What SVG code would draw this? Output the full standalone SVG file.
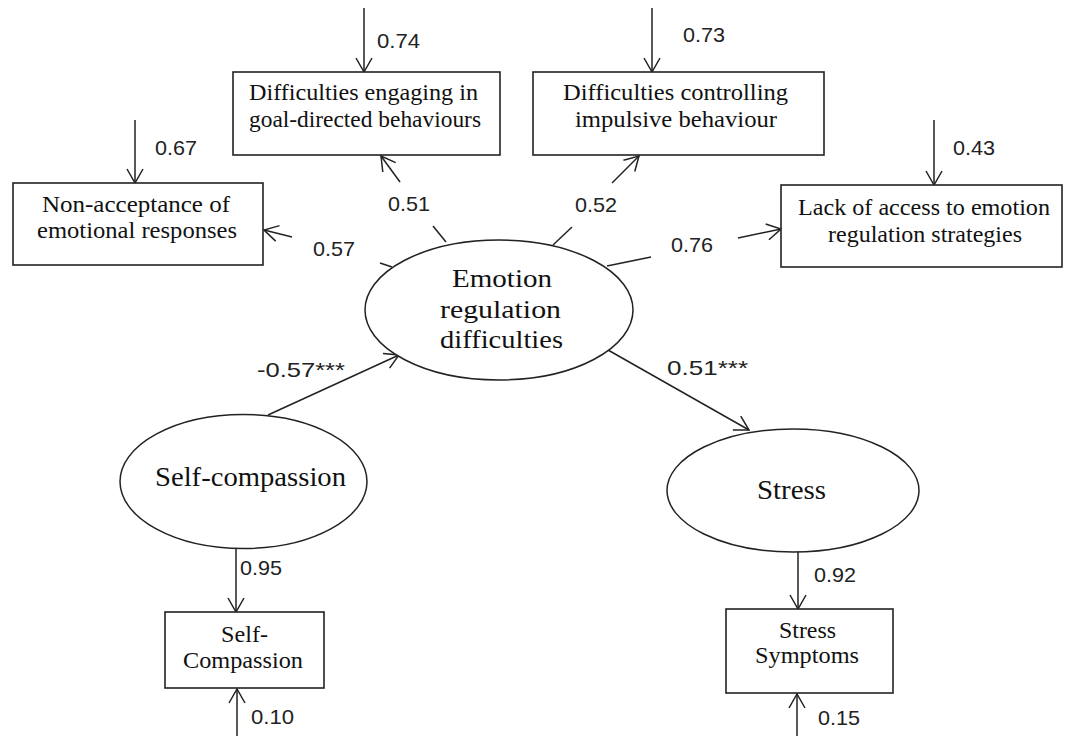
<svg xmlns="http://www.w3.org/2000/svg" width="1065" height="736" viewBox="0 0 1065 736">
<style>
.box{fill:#fff;stroke:#222;stroke-width:1.6}
.ell{fill:#fff;stroke:#222;stroke-width:1.5}
.ln{fill:none;stroke:#222;stroke-width:1.5}
.t{font-family:"Liberation Serif","Times New Roman",serif;font-size:23px;fill:#111;text-anchor:start}
.te{font-family:"Liberation Serif","Times New Roman",serif;font-size:26px;fill:#111}
.tl{font-family:"Liberation Serif","Times New Roman",serif;font-size:28px;fill:#111}
.n{font-family:"Liberation Sans",Arial,sans-serif;font-size:21px;fill:#222}
</style>
<defs>
<marker id="ah" viewBox="0 0 16 18" refX="15" refY="9" markerWidth="16" markerHeight="18" markerUnits="userSpaceOnUse" orient="auto">
<path d="M1,1 L15,9 L1,17" fill="none" stroke="#222" stroke-width="1.5"/>
</marker>
</defs>
<rect width="1065" height="736" fill="#fff"/>

<g id="connectors">
<line class="ln" x1="364" y1="8" x2="364" y2="72" marker-end="url(#ah)"/>
<line class="ln" x1="652" y1="8" x2="652" y2="72" marker-end="url(#ah)"/>
<line class="ln" x1="135" y1="120" x2="135" y2="183" marker-end="url(#ah)"/>
<line class="ln" x1="934" y1="120" x2="934" y2="185" marker-end="url(#ah)"/>
<line class="ln" x1="237" y1="736" x2="237" y2="689" marker-end="url(#ah)"/>
<line class="ln" x1="797" y1="736" x2="797" y2="694" marker-end="url(#ah)"/>
<line class="ln" x1="236" y1="549" x2="236" y2="612" marker-end="url(#ah)"/>
<line class="ln" x1="798" y1="552" x2="798" y2="609" marker-end="url(#ah)"/>
<line class="ln" x1="268" y1="415" x2="399" y2="355" marker-end="url(#ah)"/>
<line class="ln" x1="608" y1="350" x2="749" y2="430" marker-end="url(#ah)"/>
<line class="ln" x1="380" y1="263" x2="392" y2="267"/>
<line class="ln" x1="292" y1="237" x2="264" y2="230" marker-end="url(#ah)"/>
<line class="ln" x1="433" y1="226" x2="446" y2="242"/>
<line class="ln" x1="400" y1="182" x2="381" y2="156" marker-end="url(#ah)"/>
<line class="ln" x1="572" y1="227" x2="553" y2="245"/>
<line class="ln" x1="612" y1="183" x2="639" y2="156" marker-end="url(#ah)"/>
<line class="ln" x1="607" y1="266" x2="651" y2="257"/>
<line class="ln" x1="738" y1="238" x2="781" y2="229" marker-end="url(#ah)"/>
<text class="n" x="377" y="48" textLength="43" lengthAdjust="spacingAndGlyphs">0.74</text>
<text class="n" x="683" y="42" textLength="42" lengthAdjust="spacingAndGlyphs">0.73</text>
<text class="n" x="155" y="155" textLength="42" lengthAdjust="spacingAndGlyphs">0.67</text>
<text class="n" x="953" y="155" textLength="42" lengthAdjust="spacingAndGlyphs">0.43</text>
<text class="n" x="388" y="211" textLength="42" lengthAdjust="spacingAndGlyphs">0.51</text>
<text class="n" x="575" y="212" textLength="42" lengthAdjust="spacingAndGlyphs">0.52</text>
<text class="n" x="313" y="256" textLength="42" lengthAdjust="spacingAndGlyphs">0.57</text>
<text class="n" x="671" y="252" textLength="42" lengthAdjust="spacingAndGlyphs">0.76</text>
<text class="n" x="257" y="377" textLength="88" lengthAdjust="spacingAndGlyphs">-0.57***</text>
<text class="n" x="667" y="375" textLength="81" lengthAdjust="spacingAndGlyphs">0.51***</text>
<text class="n" x="240" y="575" textLength="42" lengthAdjust="spacingAndGlyphs">0.95</text>
<text class="n" x="814" y="582" textLength="42" lengthAdjust="spacingAndGlyphs">0.92</text>
<text class="n" x="251" y="724" textLength="43" lengthAdjust="spacingAndGlyphs">0.10</text>
<text class="n" x="818" y="725" textLength="42" lengthAdjust="spacingAndGlyphs">0.15</text>
</g>

<g id="non-acceptance">
<rect class="box" x="13" y="183" width="250" height="82"/>
<text class="t" x="42" y="212" font-size="22" textLength="188" lengthAdjust="spacingAndGlyphs">Non-acceptance of</text>
<text class="t" x="37" y="238" font-size="22" textLength="200" lengthAdjust="spacingAndGlyphs">emotional responses</text>
</g>

<g id="engaging">
<rect class="box" x="233" y="72" width="267" height="83"/>
<text class="t" x="249" y="100" textLength="229" lengthAdjust="spacingAndGlyphs">Difficulties engaging in</text>
<text class="t" x="249" y="127" textLength="232" lengthAdjust="spacingAndGlyphs">goal-directed behaviours</text>
</g>

<g id="controlling">
<rect class="box" x="533" y="72" width="291" height="83"/>
<text class="t" x="563" y="100" textLength="225" lengthAdjust="spacingAndGlyphs">Difficulties controlling</text>
<text class="t" x="575" y="127" textLength="202" lengthAdjust="spacingAndGlyphs">impulsive behaviour</text>
</g>

<g id="lack-access">
<rect class="box" x="781" y="185" width="281" height="82"/>
<text class="t" x="798" y="215" textLength="252" lengthAdjust="spacingAndGlyphs">Lack of access to emotion</text>
<text class="t" x="828" y="242" textLength="194" lengthAdjust="spacingAndGlyphs">regulation strategies</text>
</g>

<g id="emotion-regulation">
<ellipse class="ell" cx="499" cy="310" rx="134" ry="70"/>
<text class="te" x="452" y="287" textLength="100" lengthAdjust="spacingAndGlyphs">Emotion</text>
<text class="te" x="440" y="318" textLength="121" lengthAdjust="spacingAndGlyphs">regulation</text>
<text class="te" x="440" y="348" textLength="123" lengthAdjust="spacingAndGlyphs">difficulties</text>
</g>

<g id="self-compassion">
<ellipse class="ell" cx="243.5" cy="481.5" rx="123.5" ry="67"/>
<text class="tl" x="155" y="486" textLength="191" lengthAdjust="spacingAndGlyphs">Self-compassion</text>
</g>

<g id="stress">
<ellipse class="ell" cx="793" cy="490.5" rx="126" ry="61.5"/>
<text class="tl" x="757" y="499" textLength="69" lengthAdjust="spacingAndGlyphs">Stress</text>
</g>

<g id="self-compassion-indicator">
<rect class="box" x="165" y="612" width="159" height="76"/>
<text class="t" x="221" y="642" textLength="47" lengthAdjust="spacingAndGlyphs">Self-</text>
<text class="t" x="183" y="668" textLength="120" lengthAdjust="spacingAndGlyphs">Compassion</text>
</g>

<g id="stress-symptoms">
<rect class="box" x="726" y="609" width="167" height="84"/>
<text class="t" x="779" y="638" textLength="57" lengthAdjust="spacingAndGlyphs">Stress</text>
<text class="t" x="755" y="663" textLength="104" lengthAdjust="spacingAndGlyphs">Symptoms</text>
</g>
</svg>
